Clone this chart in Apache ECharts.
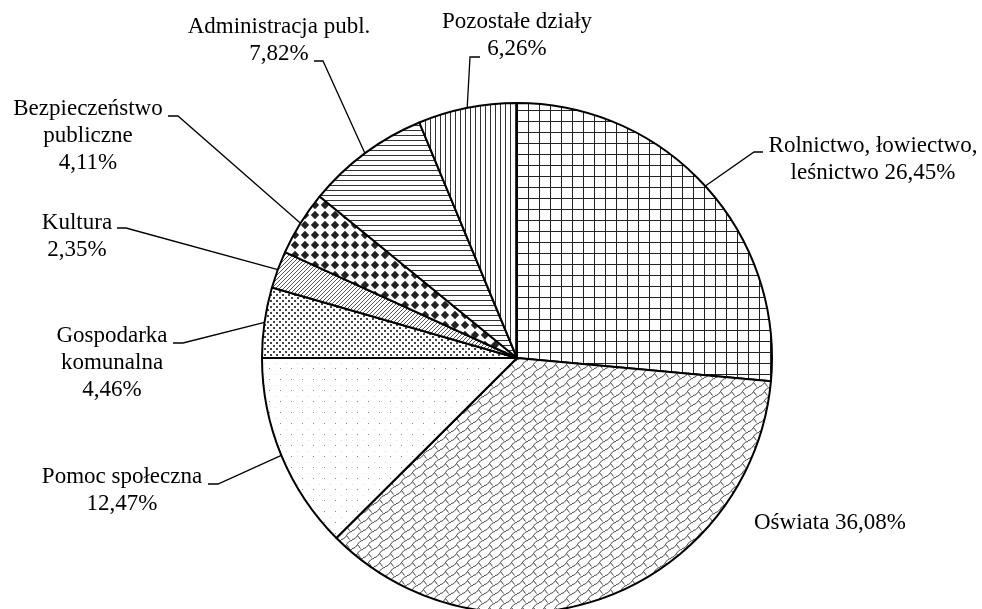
<!DOCTYPE html>
<html><head><meta charset="utf-8">
<script src="https://cdn.jsdelivr.net/npm/echarts@6/dist/echarts.min.js"></script>
<style>html,body{margin:0;padding:0;background:#fff}#c{width:982px;height:609px}</style>
</head><body><div id="c"></div>
<script>
// ---- data ----
const categories = ['Rolnictwo, łowiectwo,\nleśnictwo', 'Oświata', 'Pomoc społeczna', 'Gospodarka\nkomunalna', 'Kultura', 'Bezpieczeństwo\npubliczne', 'Administracja publ.', 'Pozostałe działy'];
const values = [26.45, 36.08, 12.47, 4.46, 2.35, 4.11, 7.82, 6.26];
const valueJoin = [' ', ' ', '\n', '\n', '\n', '\n', '\n', '\n'];

// ---- layout (label anchors: centre x, first baseline y, leader end x/y, elbow x) ----
const labelCenterX = [873, 830, 122, 112, 77, 88, 279, 517];
const labelBaseline = [152, 529, 483, 342, 229, 115, 33, 28];
const leaderEnd = [[763, 152], null, [208, 484], [173, 343], [117, 228], [168, 116], [314, 61], [480, 57]];
const leaderElbowX = [754, null, 218, 183, 126, 178, 323, 470];

function pat(w, h, draw) {
  const c = document.createElement('canvas');
  c.width = w; c.height = h;
  const g = c.getContext('2d');
  g.fillStyle = '#fff'; g.fillRect(0, 0, w, h);
  draw(g);
  return { image: c, repeat: 'repeat' };
}
const patterns = [
  pat(11, 11, g => { g.fillStyle = '#222'; g.fillRect(0, 0, 1, 11); g.fillRect(0, 0, 11, 1); }),
  pat(11, 9, g => { g.strokeStyle = '#444'; g.lineWidth = 1;
    g.beginPath(); g.moveTo(0, 8.5); g.bezierCurveTo(5.5, 8.5, 5.5, 0.5, 11, 0.5); g.stroke();
    g.beginPath(); g.moveTo(5.5, 4.5); g.lineTo(8.5, 8.5); g.stroke(); }),
  pat(11, 11, g => { g.fillStyle = '#888'; g.fillRect(5, 5, 1, 1); g.fillStyle = '#d8d8d8'; g.fillRect(0, 0, 1, 1); }),
  pat(6, 6, g => { g.fillStyle = '#444'; g.fillRect(0, 0, 2, 2); g.fillRect(3, 3, 2, 2); }),
  pat(4, 4, g => { g.fillStyle = '#555'; for (let i = 0; i < 4; i++) g.fillRect(i, 3 - i, 1, 1); }),
  pat(10, 10, g => { g.fillStyle = '#222'; g.beginPath(); g.moveTo(5, 0.8); g.lineTo(9.2, 5); g.lineTo(5, 9.2); g.lineTo(0.8, 5); g.closePath(); g.fill(); }),
  pat(5, 5, g => { g.fillStyle = '#333'; g.fillRect(0, 0, 5, 1); }),
  pat(5, 5, g => { g.fillStyle = '#333'; g.fillRect(0, 0, 1, 5); })
];

const fmt = v => v.toFixed(2).replace('.', ',') + '%';
const chart = echarts.init(document.getElementById('c'), null, { renderer: 'canvas' });
chart.setOption({
  animation: false,
  backgroundColor: '#fff',
  series: [{
    type: 'pie',
    center: [517, 358],
    radius: 255,
    startAngle: 90,
    clockwise: true,
    avoidLabelOverlap: false,
    emphasis: { disabled: true },
    itemStyle: { borderColor: '#000', borderWidth: 2 },
    label: {
      show: true, position: 'outside',
      fontFamily: '"Liberation Serif", "DejaVu Serif", "Times New Roman", serif', fontSize: 23, lineHeight: 27, color: '#000',
      align: 'center',
      formatter: p => categories[p.dataIndex] + valueJoin[p.dataIndex] + fmt(values[p.dataIndex])
    },
    labelLine: { show: true, length: 10, length2: 10, lineStyle: { color: '#000', width: 1.3 } },
    labelLayout: function (params) {
      const i = params.dataIndex;
      const out = {
        x: labelCenterX[i], y: labelBaseline[i] - 20,
        align: 'center', verticalAlign: 'top'
      };
      if (leaderEnd[i] && params.labelLinePoints) {
        const p0 = params.labelLinePoints[0];
        out.labelLinePoints = [p0, [leaderElbowX[i], leaderEnd[i][1]], leaderEnd[i]];
      }
      return out;
    },
    data: values.map((v, i) => ({
      value: v, name: categories[i],
      itemStyle: { color: patterns[i] },
      labelLine: { show: !!leaderEnd[i] }
    }))
  }]
});
</script></body></html>
